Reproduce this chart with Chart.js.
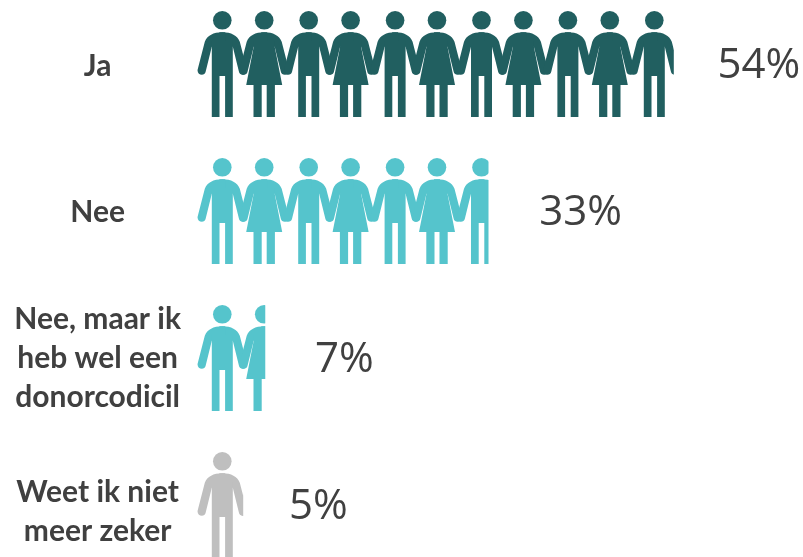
<!DOCTYPE html>
<html>
<head>
<meta charset="utf-8">
<title>Donorregistratie</title>
<script src="https://cdn.jsdelivr.net/npm/chart.js@4"></script>
<style>
    html, body { margin: 0; background: #fff; }
    canvas { display: block; }
</style>
</head>
<body>
<canvas id="chart" width="803" height="557"></canvas>
<script>
// Data
const categories = ['Ja', 'Nee', ['Nee, maar ik', 'heb wel een', 'donorcodicil'], ['Weet ik niet', 'meer zeker']];
const iconLengths = [54, 33, 7.7, 5.2]; // length of the figure row
const percentLabels = ['54%', '33%', '7%', '5%'];
const labelGaps = [44, 51, 50, 46];
const tickShifts = [2, 1, 0, 7];

const DARK = '#215f60';
const TEAL = '#55c4cc';
const GREY = '#bfbfbf';
const TEXT = '#404040';

function head(ctx, cx) {
    ctx.beginPath();
    ctx.arc(cx, 9.3, 9.3, 0, Math.PI * 2);
    ctx.fill();
}

// Shoulder and arm, runs a little past the middle so the two sides leave no seam
function arm(ctx, cx, side) {
    const x = dx => cx + side * dx;
    ctx.beginPath();
    ctx.moveTo(x(-3), 21.3);
    ctx.lineTo(x(0), 21.3);
    ctx.bezierCurveTo(x(9), 21.3, x(15), 24.5, x(17.5), 30.7);
    ctx.lineTo(x(24.7), 58.7);
    ctx.bezierCurveTo(x(25.5), 64.5, x(17.5), 65.5, x(16.6), 60.5);
    ctx.lineTo(x(10.5), 35.7);
    ctx.lineTo(x(-3), 35.7);
    ctx.closePath();
    ctx.fill();
}

function drawMan(ctx, cx) {
    head(ctx, cx);
    arm(ctx, cx, 1);
    arm(ctx, cx, -1);
    ctx.beginPath();
    ctx.moveTo(cx - 10.5, 30);
    ctx.lineTo(cx + 10.5, 30);
    ctx.lineTo(cx + 10.5, 106);
    ctx.lineTo(cx + 2.8, 106);
    ctx.lineTo(cx + 2.8, 65);
    ctx.lineTo(cx - 2.8, 65);
    ctx.lineTo(cx - 2.8, 106);
    ctx.lineTo(cx - 10.5, 106);
    ctx.closePath();
    ctx.fill();
}

function drawWoman(ctx, cx) {
    head(ctx, cx);
    arm(ctx, cx, 1);
    arm(ctx, cx, -1);
    ctx.beginPath();
    ctx.moveTo(cx - 10.5, 30);
    ctx.lineTo(cx + 10.5, 30);
    ctx.lineTo(cx + 10.5, 35.7);
    ctx.lineTo(cx + 18, 74);
    ctx.lineTo(cx + 10.7, 74);
    ctx.lineTo(cx + 10.7, 106);
    ctx.lineTo(cx + 2.5, 106);
    ctx.lineTo(cx + 2.5, 74);
    ctx.lineTo(cx - 2.5, 74);
    ctx.lineTo(cx - 2.5, 106);
    ctx.lineTo(cx - 10.7, 106);
    ctx.lineTo(cx - 10.7, 74);
    ctx.lineTo(cx - 18, 74);
    ctx.lineTo(cx - 10.5, 35.7);
    ctx.closePath();
    ctx.fill();
}

// Tile of people, anchored at the left edge of the bars, one row every 147px
function peoplePattern(color) {
    const tile = document.createElement('canvas');
    tile.width = 500;
    tile.height = 147;
    const ctx = tile.getContext('2d');
    ctx.fillStyle = color;
    for (let i = 0; i < 11; i++) {
        const cx = 25.3 + i * 43.2;
        // women stand slightly closer to the man on their left
        if (i % 2 === 0) drawMan(ctx, cx); else drawWoman(ctx, cx - 1.3);
    }
    const pattern = document.getElementById('chart').getContext('2d').createPattern(tile, 'repeat');
    pattern.setTransform(new DOMMatrix().translate(197, 11));
    return pattern;
}

const percentPlugin = {
    id: 'percentLabels',
    afterDatasetsDraw(chart) {
        const ctx = chart.ctx;
        ctx.save();
        ctx.fillStyle = TEXT;
        ctx.font = '400 42px "Open Sans"';
        ctx.textAlign = 'left';
        ctx.textBaseline = 'middle';
        chart.getDatasetMeta(0).data.forEach((bar, i) => {
            ctx.fillText(percentLabels[i], bar.x + labelGaps[i], bar.y + 2);
        });
        ctx.restore();
    }
};

const teal = peoplePattern(TEAL);

new Chart(document.getElementById('chart'), {
    type: 'bar',
    data: {
        labels: categories,
        datasets: [{
            data: iconLengths,
            backgroundColor: [peoplePattern(DARK), teal, teal, peoplePattern(GREY)],
            barThickness: 106,
            borderWidth: 0,
            clip: false
        }]
    },
    options: {
        indexAxis: 'y',
        responsive: false,
        animation: false,
        layout: {
            padding: { top: 64, bottom: 52, left: 0, right: 6 }
        },
        plugins: {
            legend: { display: false },
            tooltip: { enabled: false }
        },
        scales: {
            x: {
                display: false,
                min: 0,
                max: 68
            },
            y: {
                offset: false,
                afterFit: scale => {
                    scale.width = 197;
                    // Tick labels do not all sit on the middle of their row
                    scale.getPixelForTick = i => scale.getPixelForValue(scale.ticks[i].value) + tickShifts[i];
                },
                border: { display: false },
                grid: { display: false },
                ticks: {
                    crossAlign: 'center',
                    padding: 8,
                    color: TEXT,
                    font: { family: 'Lato', size: 30, weight: 'bold', lineHeight: 39 / 30 }
                }
            }
        }
    },
    plugins: [percentPlugin]
});
</script>
</body>
</html>
